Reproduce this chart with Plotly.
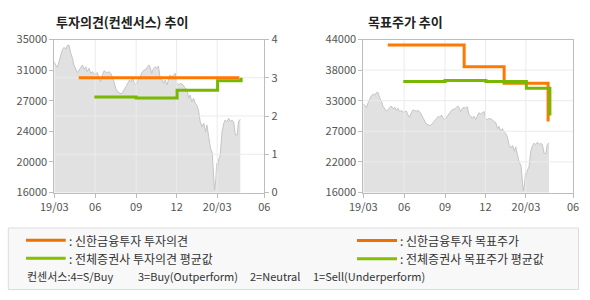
import numpy as np
import plotly.graph_objects as go

# ---------------- data ----------------
price_dates = [
    "2019-03-01", "2019-03-04", "2019-03-08", "2019-03-12", "2019-03-15", "2019-03-19",
    "2019-03-23", "2019-03-27", "2019-03-30", "2019-04-03", "2019-04-07", "2019-04-11",
    "2019-04-14", "2019-04-18", "2019-04-22", "2019-04-26", "2019-04-29", "2019-05-03",
    "2019-05-07", "2019-05-11", "2019-05-14", "2019-05-18", "2019-05-22", "2019-05-26",
    "2019-05-30", "2019-06-02", "2019-06-06", "2019-06-09", "2019-06-13", "2019-06-17",
    "2019-06-21", "2019-06-24", "2019-06-28", "2019-07-02", "2019-07-06", "2019-07-10",
    "2019-07-13", "2019-07-17", "2019-07-21", "2019-07-25", "2019-07-29", "2019-08-01",
    "2019-08-05", "2019-08-09", "2019-08-13", "2019-08-17", "2019-08-20", "2019-08-24",
    "2019-08-28", "2019-09-01", "2019-09-04", "2019-09-08", "2019-09-12", "2019-09-15",
    "2019-09-19", "2019-09-23", "2019-09-27", "2019-09-30", "2019-10-02", "2019-10-06",
    "2019-10-10", "2019-10-14", "2019-10-17", "2019-10-21", "2019-10-25", "2019-10-29",
    "2019-11-01", "2019-11-05", "2019-11-09", "2019-11-13", "2019-11-16", "2019-11-20",
    "2019-11-24", "2019-11-28", "2019-12-01", "2019-12-05", "2019-12-09", "2019-12-13",
    "2019-12-16", "2019-12-20", "2019-12-24", "2019-12-28", "2019-12-31", "2020-01-04",
    "2020-01-08", "2020-01-12", "2020-01-15", "2020-01-19", "2020-01-23", "2020-01-27",
    "2020-01-31", "2020-02-04", "2020-02-07", "2020-02-11", "2020-02-15", "2020-02-19",
    "2020-02-21", "2020-02-24", "2020-02-27", "2020-02-29", "2020-03-01", "2020-03-04",
    "2020-03-08", "2020-03-12", "2020-03-16", "2020-03-19", "2020-03-23", "2020-03-27",
    "2020-03-31", "2020-04-03", "2020-04-07", "2020-04-11", "2020-04-15", "2020-04-18",
    "2020-04-22",
]
price_values = [
    32240, 31830, 31550, 32450, 32950, 33700,
    34030, 33780, 34230, 34320, 33290, 32660,
    31830, 31300, 30880, 31210, 31420, 31830,
    31300, 31620, 31000, 31420, 30800, 31000,
    30680, 30800, 30880, 30300, 29760, 30590,
    31130, 31000, 30880, 31000, 30800, 30180,
    29760, 28940, 28520, 28400, 28230, 28400,
    28730, 29140, 29560, 29970, 29760, 30180,
    29560, 29350, 29760, 30180, 30720, 31000,
    31210, 31300, 31620, 31830, 31620, 30800,
    31420, 31620, 31420, 31710, 30180, 29970,
    29560, 29970, 29350, 30180, 30590, 30380,
    30590, 30800, 29640, 29350, 29560, 29470,
    29350, 28940, 28820, 27700, 28110, 27280,
    27700, 27080, 26870, 26250, 24790, 24170,
    24600, 23550, 24380, 22930, 21490, 20940,
    19200, 16310, 17550, 19620, 18580, 20040,
    20660, 23550, 24600, 25000, 24790, 25210,
    24790, 25000, 24790, 23140, 23140, 24790,
    25090,
]

# investment opinion (right axis of left chart)
shinhan_op_dates = ["2019-04-25", "2020-04-20"]
shinhan_op_values = [3.0, 3.0]
avg_op_dates = ["2019-05-30", "2019-09-01", "2019-12-02", "2020-03-02", "2020-04-24"]
avg_op_values = [2.50, 2.47, 2.67, 2.92, 3.0]

# target price
shinhan_tp_dates = ["2019-04-25", "2019-10-14", "2020-01-12", "2020-04-20"]
shinhan_tp_values = [43000, 39000, 36000, 29000]
avg_tp_dates = ["2019-05-30", "2019-09-01", "2019-12-02", "2020-03-02", "2020-04-24"]
avg_tp_values = [36300, 36500, 36300, 35100, 30100]

x_tick_dates = ["2019-03-01", "2019-06-01", "2019-09-01", "2019-12-01", "2020-03-01", "2020-06-15"]
x_tick_labels = ["19/03", "06", "09", "12", "20/03", "06"]
left_price_ticktext = ["16000", "20000", "24000", "27000", "31000", "35000"]
right_price_ticktext = ["16000", "22000", "27000", "33000", "38000", "44000"]
opinion_ticks = [0, 1, 2, 3, 4]

# ---------------- styling ----------------
ORANGE = "#ff7800"
GREEN = "#78b800"
LEG_ORANGE = "#ee7000"
LEG_GREEN = "#84c000"
FONT = "Noto Sans CJK KR"
GRID = "#ebebeb"
FRAME = "#bdbdbd"
TICKC = "#555555"

left_price_ticks = list(np.linspace(16000, 35000, 6))
right_price_ticks = list(np.linspace(16000, 44000, 6))
xrange_ = [x_tick_dates[0], x_tick_dates[-1]]


def grid_trace(xaxis, yaxis, ytick_vals, yr):
    """gridlines drawn as a trace so they sit above the grey price area"""
    gx, gy = [], []
    for v in ytick_vals[1:-1]:
        gx += [xrange_[0], xrange_[1], None]
        gy += [v, v, None]
    for d in x_tick_dates[1:-1]:
        gx += [d, d, None]
        gy += [yr[0], yr[1], None]
    return go.Scatter(x=gx, y=gy, mode="lines", line=dict(color=GRID, width=1),
                      xaxis=xaxis, yaxis=yaxis, showlegend=False, hoverinfo="skip")


fig = go.Figure()

# left chart
fig.add_trace(go.Scatter(x=price_dates, y=price_values, mode="lines",
                         line=dict(color="#c4c4c4", width=1), fill="tozeroy",
                         fillcolor="#e1e1e1", xaxis="x", yaxis="y", showlegend=False,
                         hoverinfo="skip"))
fig.add_trace(grid_trace("x", "y2", opinion_ticks, [0, 4]))
fig.add_trace(go.Scatter(x=shinhan_op_dates, y=shinhan_op_values, mode="lines",
                         line=dict(color=ORANGE, width=3, shape="hv"),
                         xaxis="x", yaxis="y2", showlegend=False))
fig.add_trace(go.Scatter(x=avg_op_dates, y=avg_op_values, mode="lines",
                         line=dict(color=GREEN, width=3, shape="hv"),
                         xaxis="x", yaxis="y2", showlegend=False))

# right chart
fig.add_trace(go.Scatter(x=price_dates, y=price_values, mode="lines",
                         line=dict(color="#c4c4c4", width=1), fill="tozeroy",
                         fillcolor="#e1e1e1", xaxis="x3", yaxis="y3", showlegend=False,
                         hoverinfo="skip"))
fig.add_trace(grid_trace("x3", "y3", right_price_ticks, [16000, 44000]))
fig.add_trace(go.Scatter(x=shinhan_tp_dates, y=shinhan_tp_values, mode="lines",
                         line=dict(color=ORANGE, width=3, shape="hv"),
                         xaxis="x3", yaxis="y3", showlegend=False))
fig.add_trace(go.Scatter(x=avg_tp_dates, y=avg_tp_values, mode="lines",
                         line=dict(color=GREEN, width=3, shape="hv"),
                         xaxis="x3", yaxis="y3", showlegend=False))

W, H = 590, 300


def px(x):
    return x / W


def py(y):
    return 1 - y / H


ydom = [py(192.5), py(39.5)]
tickfont = dict(family=FONT, size=11, color=TICKC)

common_x = dict(type="date", range=xrange_, tickmode="array", tickvals=x_tick_dates,
                ticktext=x_tick_labels, showgrid=False,
                showline=True, linecolor=FRAME, linewidth=1, mirror=True,
                ticks="outside", ticklen=4, tickcolor=FRAME, tickfont=tickfont,
                zeroline=False, fixedrange=True, automargin=False)

fig.update_layout(
    template="none",
    width=W, height=H, autosize=False,
    margin=dict(l=0, r=0, t=0, b=0, pad=0),
    paper_bgcolor="white", plot_bgcolor="white",
    font=dict(family=FONT),
    showlegend=False,
    xaxis=dict(domain=[px(54.3), px(264.3)], anchor="y", **common_x),
    yaxis=dict(domain=ydom, range=[16000, 35000], tickmode="array",
               tickvals=left_price_ticks, ticktext=left_price_ticktext,
               showgrid=False, showline=True, linecolor=FRAME, ticks="outside",
               ticklen=4, tickcolor=FRAME, tickfont=tickfont, zeroline=False,
               automargin=False),
    yaxis2=dict(overlaying="y", side="right", anchor="x", range=[0, 4],
                tickmode="array", tickvals=opinion_ticks,
                showgrid=False, showline=True, linecolor=FRAME,
                ticks="outside", ticklen=4, tickcolor=FRAME, tickfont=tickfont,
                zeroline=False, automargin=False),
    xaxis3=dict(domain=[px(363.3), px(573)], anchor="y3", **common_x),
    yaxis3=dict(domain=ydom, anchor="x3", range=[16000, 44000], tickmode="array",
                tickvals=right_price_ticks, ticktext=right_price_ticktext,
                showgrid=False, showline=True, linecolor=FRAME,
                mirror=True, ticks="outside", ticklen=4, tickcolor=FRAME,
                tickfont=tickfont, zeroline=False, automargin=False),
)

annotations = [
    dict(text="<b>투자의견(컨센서스) 추이</b>", x=px(54), y=py(21), xref="paper", yref="paper",
         xanchor="left", yanchor="middle", showarrow=False,
         font=dict(family=FONT, size=13, color="#222222")),
    dict(text="<b>목표주가 추이</b>", x=px(366), y=py(21), xref="paper", yref="paper",
         xanchor="left", yanchor="middle", showarrow=False,
         font=dict(family=FONT, size=13, color="#222222")),
]

shapes = [
    dict(type="rect", xref="paper", yref="paper", x0=px(8.3), x1=px(578.5), y0=py(289.5),
         y1=py(228), fillcolor="#f8f8f8", line=dict(color="#dcdcdc", width=1), layer="below"),
]

legend_items = [
    (26, 65.7, 67.5, 240.3, LEG_ORANGE, ": 신한금융투자 투자의견"),
    (26, 65.7, 67.5, 258.2, LEG_GREEN, ": 전체증권사 투자의견 평균값"),
    (357, 397, 398.5, 240.6, LEG_ORANGE, ": 신한금융투자 목표주가"),
    (357, 397, 398.5, 258.8, LEG_GREEN, ": 전체증권사 목표주가 평균값"),
]
for x0, x1, tx, y, col, txt in legend_items:
    shapes.append(dict(type="line", xref="paper", yref="paper", x0=px(x0), x1=px(x1),
                       y0=py(y), y1=py(y), line=dict(color=col, width=3)))
    annotations.append(dict(text=txt, x=px(tx), y=py(y), xref="paper", yref="paper",
                            xanchor="left", yanchor="middle", showarrow=False,
                            borderpad=0,
                            font=dict(family=FONT, size=12, color="#333333")))

consensus_parts = [
    (26, "컨센서스:4=S/Buy"),
    (136.5, "3=Buy(Outperform)"),
    (249, "2=Neutral"),
    (312, "1=Sell(Underperform)"),
]
for x, txt in consensus_parts:
    annotations.append(dict(text=txt, x=px(x), y=py(275.5), xref="paper", yref="paper",
                            xanchor="left", yanchor="middle", showarrow=False,
                            borderpad=0,
                            font=dict(family=FONT, size=11, color="#333333")))

fig.update_layout(annotations=annotations, shapes=shapes)

fig.write_html("out.html")
